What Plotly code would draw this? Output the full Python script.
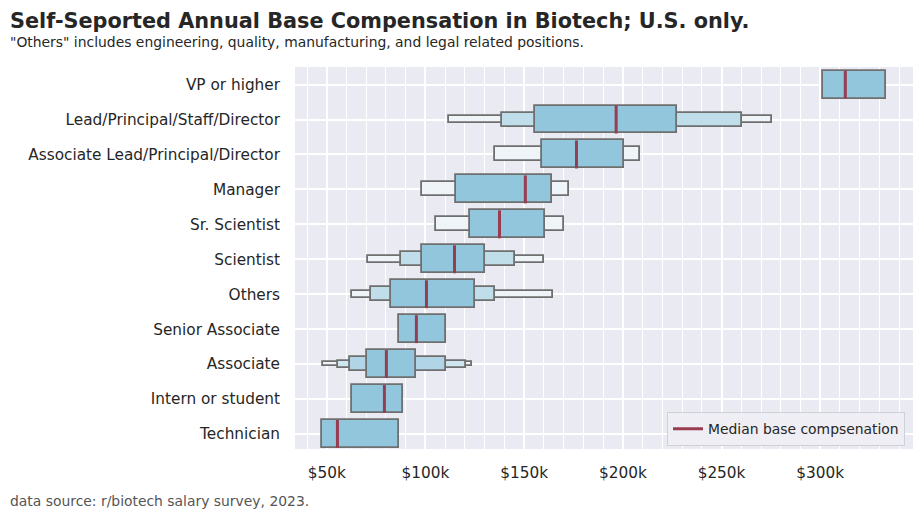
import plotly.graph_objects as go

# ---- data (values in $ thousands) ----
categories = ["VP or higher", "Lead/Principal/Staff/Director", "Associate Lead/Principal/Director",
              "Manager", "Sr. Scientist", "Scientist", "Others", "Senior Associate",
              "Associate", "Intern or student", "Technician"]
medians = [312.7, 196.6, 176.5, 150.6, 137.5, 114.7, 100.5, 95.4, 80.2, 79.2, 55.4]
# letter-value boxes: level 1 = main box, higher levels = outer boxes (None = absent)
level1_lo = [301.3, 155.5, 158.9, 115.3, 122.4, 98.1, 82.4, 86.5, 70.3, 62.7, 47.5]
level1_hi = [333.3, 227.6, 200.6, 164.1, 160.6, 130.2, 125.1, 110.4, 95.2, 88.8, 86.8]
level2_lo = [None, 138.7, 135.1, 98.1, 105.2, 87.5, 72.3, None, 61.8, None, None]
level2_hi = [None, 260.5, 208.9, 172.7, 170.2, 145.4, 135.3, None, 110.4, None, None]
level3_lo = [None, 111.8, None, None, None, 70.8, 62.7, None, 55.9, None, None]
level3_hi = [None, 275.6, None, None, None, 160.1, 164.6, None, 120.6, None, None]
level4_lo = [None, None, None, None, None, None, None, None, 48.0, None, None]
level4_hi = [None, None, None, None, None, None, None, None, 123.8, None, None]

x_ticks = [50, 100, 150, 200, 250, 300]
x_tick_labels = ["$50k", "$100k", "$150k", "$200k", "$250k", "$300k"]

# ---- styling ----
OFF = 8  # page body margin in the browser
W, H = 924 - OFF, 519 - OFF
L, R, T, B = 295 - OFF, 913 - OFF, 66.7 - OFF, 449.3 - OFF
BASE = (146, 198, 221)
LIGHT = (238, 244, 248)
EDGE = "#6f6f6f"
MED = "#983c50"
FONT = "DejaVu Sans"
TXT = "#262626"

levels = [(level1_lo, level1_hi), (level2_lo, level2_hi), (level3_lo, level3_hi), (level4_lo, level4_hi)]
n_levels = [sum(1 for lo, hi in levels if lo[i] is not None) for i in range(len(categories))]


def level_color(k, n):
    t = 0.0 if n <= 1 else k / (n - 1)
    c = [round(BASE[j] + (LIGHT[j] - BASE[j]) * t) for j in range(3)]
    return f"rgb({c[0]},{c[1]},{c[2]})"


fig = go.Figure()
pos = list(range(len(categories)))

# draw outer levels first so inner boxes cover them
for k in reversed(range(len(levels))):
    lo, hi = levels[k]
    ys, bases, lens, cols = [], [], [], []
    for i in pos:
        if lo[i] is None:
            continue
        ys.append(i)
        bases.append(lo[i])
        lens.append(hi[i] - lo[i])
        cols.append(level_color(k, n_levels[i]))
    fig.add_trace(go.Bar(
        y=ys, x=lens, base=bases, orientation="h", width=0.8 / (2 ** k),
        marker=dict(color=cols, line=dict(color=EDGE, width=1.8)),
        showlegend=False, hoverinfo="skip"))

# median lines
mx, my = [], []
for i in pos:
    mx += [medians[i], medians[i], None]
    my += [i - 0.4, i + 0.4, None]
fig.add_trace(go.Scatter(x=mx, y=my, mode="lines", line=dict(color=MED, width=3),
                         name="Median base compsenation", hoverinfo="skip"))


def px_y(y):
    return (B - (y - OFF)) / (B - T)


def px_x(x):
    return ((x - OFF) - L) / (R - L)


fig.update_layout(
    width=W, height=H,
    margin=dict(l=L, r=W - R, t=T, b=H - B, pad=0),
    paper_bgcolor="white", plot_bgcolor="#eaeaf2",
    barmode="overlay", bargap=0,
    font=dict(family=FONT, color=TXT, size=15.3),
    showlegend=True,
    legend=dict(x=px_x(905), y=px_y(446.5), xanchor="right", yanchor="bottom",
                bgcolor="#eeeef4", bordercolor="#d0d0d8", borderwidth=1,
                font=dict(size=13.9, color=TXT), itemwidth=30),
    xaxis=dict(range=[33.9, 347.0], tickvals=x_ticks, ticktext=x_tick_labels,
               showgrid=True, gridcolor="white", gridwidth=1.8, zeroline=False,
               showline=False, ticks="", ticklabelstandoff=13,
               tickfont=dict(size=15.3, color=TXT),
               minor=dict(dtick=10, showgrid=True, gridcolor="white", gridwidth=0.8, ticks="")),
    yaxis=dict(range=[10.43, -0.503], tickvals=pos, ticktext=categories,
               showgrid=True, gridcolor="white", gridwidth=1.5, zeroline=False,
               showline=False, ticks="", ticklabelstandoff=14,
               tickfont=dict(size=15.3, color=TXT)),
    annotations=[
        dict(text="<b>Self-Seported Annual Base Compensation in Biotech; U.S. only.</b>",
             xref="paper", yref="paper", x=px_x(8), y=px_y(21), xanchor="left", yanchor="middle",
             showarrow=False, font=dict(size=20.8, color=TXT, family=FONT)),
        dict(text="\"Others\" includes engineering, quality, manufacturing, and legal related positions.",
             xref="paper", yref="paper", x=px_x(8), y=px_y(41.5), xanchor="left", yanchor="middle",
             showarrow=False, font=dict(size=13.9, color=TXT, family=FONT)),
        dict(text="data source: r/biotech salary survey, 2023.",
             xref="paper", yref="paper", x=px_x(8), y=px_y(501.5), xanchor="left", yanchor="middle",
             showarrow=False, font=dict(size=13.9, color="#555555", family=FONT)),
    ],
)

fig.write_html("out.html")
